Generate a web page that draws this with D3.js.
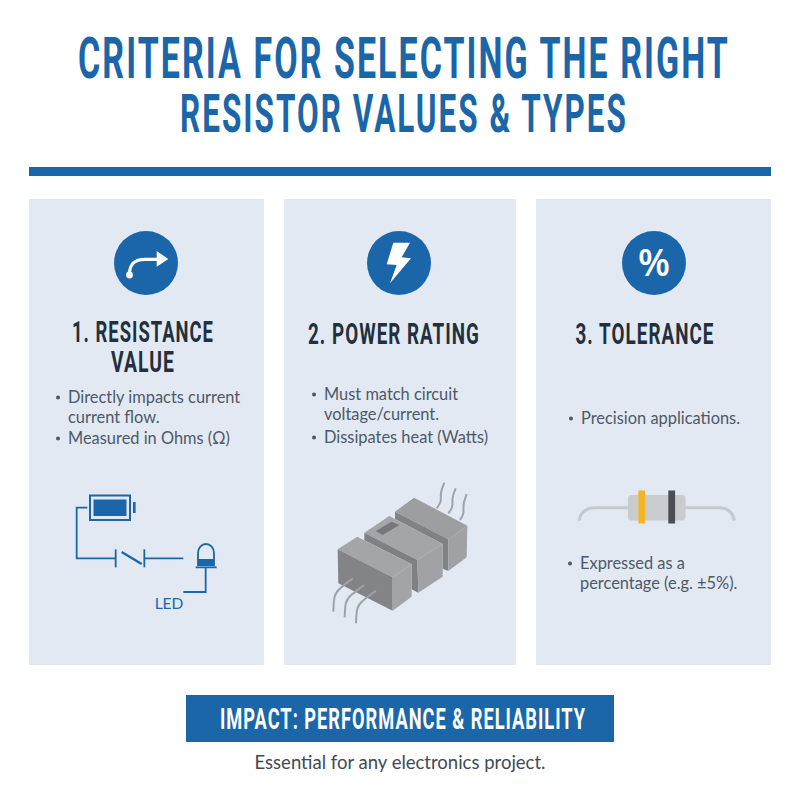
<!DOCTYPE html>
<html>
<head>
<meta charset="utf-8">
<script src="https://cdn.jsdelivr.net/npm/d3@7"></script>
<style>
html, body { margin: 0; padding: 0; background: #fff; }
svg { display: block; }
.head { font-family: "Roboto", sans-serif; font-weight: 700; }
.body { font-family: "Lato", sans-serif; fill: #4d5966; font-size: 16.4px; }
</style>
</head>
<body>
<svg width="800" height="800" viewBox="0 0 800 800"></svg>
<script>
var titleLines = ["CRITERIA FOR SELECTING THE RIGHT", "RESISTOR VALUES & TYPES"];
var cardHeadings = [["1. RESISTANCE", "VALUE"], ["2. POWER RATING"], ["3. TOLERANCE"]];
var cardBullets = [
    [["Directly impacts current", "current flow."], ["Measured in Ohms (Ω)"]],
    [["Must match circuit", "voltage/current."], ["Dissipates heat (Watts)"]],
    [["Precision applications."]]
];
var toleranceNote = ["Expressed as a", "percentage (e.g. ±5%)."];
var bannerText = "IMPACT: PERFORMANCE & RELIABILITY";
var footerText = "Essential for any electronics project.";

var blue = "#1b66a9", cardFill = "#e2e9f3", ink = "#22303e", grey = "#4d5966";

var svg = d3.select("svg");
var line = d3.line();
var curve = d3.line().curve(d3.curveBasis);

// no condensed font here, so squeeze the text to the width it has in the picture
function fitted(parent, t, cx, y, size, width, spacing, color) {
    var el = parent.append("text").attr("class", "head")
        .attr("text-anchor", "middle")
        .attr("font-size", size)
        .attr("letter-spacing", spacing)
        .attr("fill", color)
        .text(t);
    var sx = width / el.node().getComputedTextLength();
    el.attr("transform", "translate(" + cx + "," + y + ") scale(" + sx + ",1)");
    return el;
}

// title + rule
fitted(svg, titleLines[0], 404, 78, 57, 652, 3.5, blue);
fitted(svg, titleLines[1], 404, 132, 54, 448, 3.5, blue);
svg.append("rect").attr("x", 29).attr("y", 167).attr("width", 742).attr("height", 9).attr("fill", blue);

// cards
var cardBox = [{x: 29, w: 235, cx: 146, hx: 143, hy: 342, hw: [142, 64]}, {x: 284, w: 232, cx: 399, hx: 394, hy: 344, hw: [172]}, {x: 536, w: 235, cx: 654, hx: 645, hy: 344, hw: [139]}];
var bulletSpec = [{x: 68, ys: [[403, 423], [444]]}, {x: 324, ys: [[400, 420], [443]]}, {x: 581, ys: [[424]]}];

var cards = svg.selectAll("g.card")
    .data(cardHeadings)
    .enter().append("g")
    .attr("class", "card");

cards.append("rect")
    .attr("x", function(d, i) { return cardBox[i].x; })
    .attr("y", 199)
    .attr("width", function(d, i) { return cardBox[i].w; })
    .attr("height", 466)
    .attr("fill", cardFill);

cards.append("circle")
    .attr("cx", function(d, i) { return cardBox[i].cx; })
    .attr("cy", 263)
    .attr("r", 32)
    .attr("fill", blue);

cards.each(function(lines, i) {
    var g = d3.select(this), box = cardBox[i], spec = bulletSpec[i];
    lines.forEach(function(t, j) {
        fitted(g, t, box.hx, box.hy + j * 30, 29, box.hw[j], 1.6, ink);
    });
    cardBullets[i].forEach(function(item, b) {
        g.append("circle").attr("cx", spec.x - 10).attr("cy", spec.ys[b][0] - 5.5).attr("r", 2).attr("fill", grey);
        item.forEach(function(t, k) {
            g.append("text").attr("class", "body").attr("x", spec.x).attr("y", spec.ys[b][k]).text(t);
        });
    });
});

// note under the resistor
svg.selectAll("text.note")
    .data(toleranceNote)
    .enter().append("text")
    .attr("class", "note body")
    .attr("x", 580)
    .attr("y", function(d, i) { return 569 + i * 20; })
    .text(function(d) { return d; });
svg.append("circle").attr("cx", 570).attr("cy", 563.5).attr("r", 2).attr("fill", grey);

// icons
function zoomed(ox, oy) {
    return function(pts) { return pts.map(function(p) { return [ox + p[0] / 3, oy + p[1] / 3]; }); };
}
var z1 = zoomed(100, 220);
svg.append("path")
    .attr("d", "M" + z1([[88, 165]]) + "C" + z1([[88, 130], [105, 118], [135, 118]]) + "L" + z1([[176, 118]]))
    .attr("fill", "none").attr("stroke", "#fff").attr("stroke-width", 3.2);
svg.append("circle").attr("cx", 129.5).attr("cy", 275).attr("r", 3.4).attr("fill", "#fff");
svg.append("path").attr("d", line(z1([[170, 93], [205, 117], [170, 140]])) + "Z").attr("fill", "#fff");
svg.append("path").attr("d", line(z1([[880, 68], [930, 68], [905, 112], [933, 115], [870, 190], [890, 135], [860, 133]])) + "Z").attr("fill", "#fff");
svg.append("text").attr("x", 654).attr("y", 276).attr("text-anchor", "middle")
    .attr("font-family", "Open Sans, sans-serif").attr("font-weight", 600).attr("font-size", 37).attr("fill", "#fff").text("%");

// circuit
var z2 = zoomed(30, 470);
var circuit = svg.append("g").attr("fill", "none").attr("stroke", blue).attr("stroke-width", 1.8);
[
    [[172, 113], [140, 113], [140, 265], [255, 265]],
    [[257, 238], [257, 292]],
    [[343, 238], [343, 292]],
    [[275, 246], [335, 282]],
    [[345, 265], [460, 265]],
    [[497, 292], [560, 292]],
    [[527, 292], [527, 366], [460, 366]]
].forEach(function(p) { circuit.append("path").attr("d", line(z2(p))); });
circuit.select("path:nth-child(4)").attr("stroke-width", 2.4);
svg.append("rect").attr("x", 90).attr("y", 495.5).attr("width", 40).attr("height", 24.5)
    .attr("fill", "none").attr("stroke", blue).attr("stroke-width", 2);
svg.append("rect").attr("x", 93.5).attr("y", 499.5).attr("width", 33).attr("height", 16.5).attr("fill", blue);
svg.append("rect").attr("x", 133).attr("y", 502).attr("width", 2.6).attr("height", 11).attr("fill", blue);
// led dome
svg.append("path")
    .attr("d", "M198,565V553A8,9 0 0 1 214,553V565Z")
    .attr("fill", "none").attr("stroke", blue).attr("stroke-width", 1.8);
svg.append("rect").attr("x", 198).attr("y", 559).attr("width", 16).attr("height", 6).attr("fill", blue);
svg.append("text").attr("x", 169).attr("y", 609).attr("text-anchor", "middle")
    .attr("font-family", "Lato, sans-serif").attr("font-size", 15.5).attr("fill", blue).text("LED");

// power resistor blocks
var z3 = zoomed(310, 470);
var leadColor = "#9ea3a7";
[
    [[380, 115], [395, 95], [390, 70], [403, 38]],
    [[415, 130], [430, 110], [425, 85], [437, 55]],
    [[450, 150], [463, 130], [458, 105], [470, 72]]
].forEach(function(p) {
    svg.append("path").attr("d", curve(z3(p))).attr("fill", "none").attr("stroke", leadColor).attr("stroke-width", 2);
});
var faces = [
    // back block
    {p: [[255, 125], [312, 83], [472, 167], [415, 208]], c: "#9c9ea0"},
    {p: [[255, 125], [415, 208], [415, 303], [398, 296], [398, 222], [255, 147]], c: "#808285"},
    {p: [[415, 208], [472, 167], [470, 262], [415, 303]], c: "#9fa1a4"},
    // middle block
    {p: [[163, 188], [238, 138], [398, 222], [322, 270]], c: "#a3a5a7"},
    {p: [[163, 188], [322, 270], [325, 368], [305, 358], [305, 283], [163, 211]], c: "#7e8083"},
    {p: [[322, 270], [398, 222], [398, 320], [325, 368]], c: "#a0a2a5"},
    {p: [[197, 183], [245, 155], [268, 165], [218, 195]], c: "#76787b"},
    // front block
    {p: [[83, 238], [142, 200], [305, 283], [248, 322]], c: "#a3a5a7"},
    {p: [[83, 238], [248, 322], [248, 422], [85, 340]], c: "#828487"},
    {p: [[248, 322], [305, 283], [305, 380], [248, 422]], c: "#a2a4a7"}
];
svg.selectAll("path.face")
    .data(faces)
    .enter().append("path")
    .attr("class", "face")
    .attr("d", function(d) { return line(z3(d.p)) + "Z"; })
    .attr("fill", function(d) { return d.c; });
[
    [[128, 325], [85, 358], [72, 375], [70, 425]],
    [[163, 345], [118, 378], [106, 395], [104, 442]],
    [[198, 362], [152, 396], [140, 412], [138, 460]]
].forEach(function(p) {
    svg.append("path").attr("d", curve(z3(p))).attr("fill", "none").attr("stroke", leadColor).attr("stroke-width", 2);
});

// axial resistor
var z4 = zoomed(560, 470);
svg.append("path")
    .attr("d", "M" + z4([[57, 152]]) + "Q" + z4([[65, 113], [105, 113]]) + "L" + z4([[478, 113]]) + "Q" + z4([[515, 113], [523, 152]]))
    .attr("fill", "none").attr("stroke", "#c5c9cc").attr("stroke-width", 3);
svg.append("rect").attr("x", 628).attr("y", 495).attr("width", 57.5).attr("height", 25.5).attr("rx", 3.5).attr("fill", "#c8ccce");
svg.append("rect").attr("x", 638.3).attr("y", 490.5).attr("width", 6.8).attr("height", 33).attr("fill", "#f5b428");
svg.append("rect").attr("x", 668.3).attr("y", 490.5).attr("width", 6.8).attr("height", 33).attr("fill", "#4b4e52");

// banner + footer
svg.append("rect").attr("x", 186).attr("y", 695).attr("width", 428).attr("height", 47).attr("fill", blue);
fitted(svg, bannerText, 403, 729, 29, 366, 1.6, "#fff");
svg.append("text")
    .attr("x", 400).attr("y", 769).attr("text-anchor", "middle")
    .attr("font-family", "Lato, sans-serif").attr("font-size", 18.5)
    .attr("fill", "#3f4a56").text(footerText);
</script>
</body>
</html>
